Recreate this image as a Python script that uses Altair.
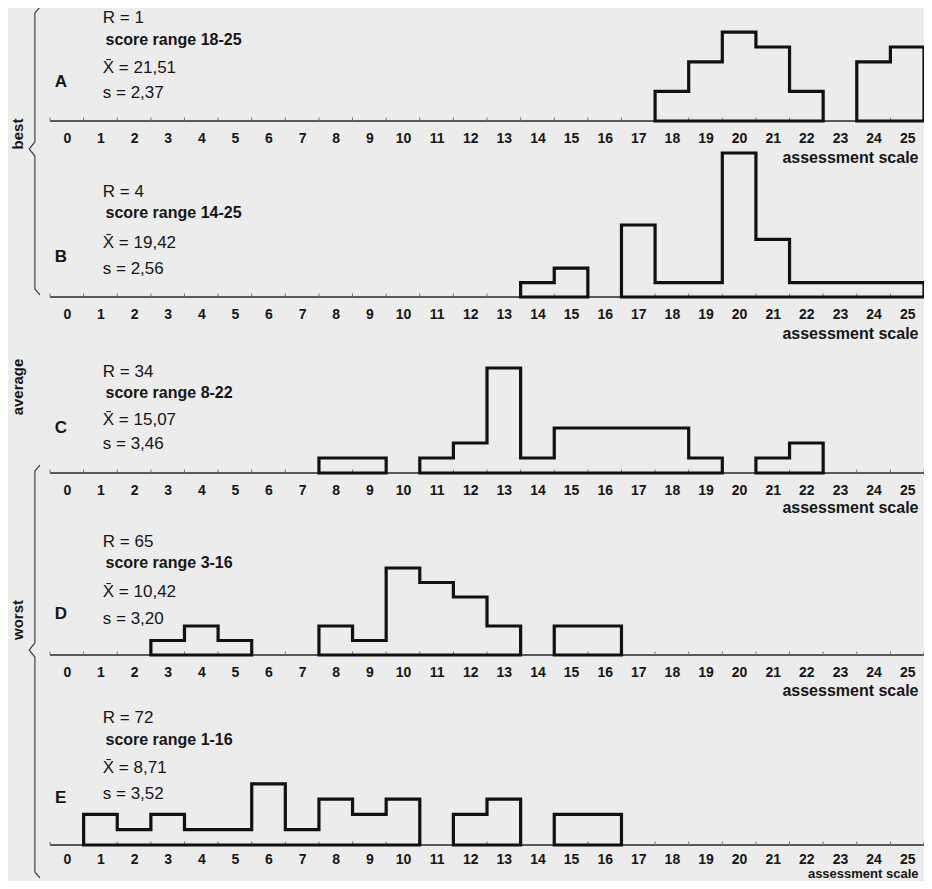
import altair as alt
import pandas as pd

# ---------------- data ----------------
scale_points = list(range(26))  # assessment scale 0..25
panel_names = ["A", "B", "C", "D", "E"]

counts_A = [0, 0, 0, 0, 0, 0, 0, 0, 0, 0, 0, 0, 0, 0, 0, 0, 0, 0, 2, 4, 6, 5, 2, 0, 4, 5]
counts_B = [0, 0, 0, 0, 0, 0, 0, 0, 0, 0, 0, 0, 0, 0, 1, 2, 0, 5, 1, 1, 10, 4, 1, 1, 1, 1]
counts_C = [0, 0, 0, 0, 0, 0, 0, 0, 1, 1, 0, 1, 2, 7, 1, 3, 3, 3, 3, 1, 0, 1, 2, 0, 0, 0]
counts_D = [0, 0, 0, 1, 2, 1, 0, 0, 2, 1, 6, 5, 4, 2, 0, 2, 2, 0, 0, 0, 0, 0, 0, 0, 0, 0]
counts_E = [0, 2, 1, 2, 1, 1, 4, 1, 3, 2, 3, 0, 2, 3, 0, 2, 2, 0, 0, 0, 0, 0, 0, 0, 0, 0]
all_counts = [counts_A, counts_B, counts_C, counts_D, counts_E]

r_labels = ["R = 1", "R = 4", "R = 34", "R = 65", "R = 72"]
range_labels = ["score range 18-25", "score range 14-25", "score range 8-22",
                "score range 3-16", "score range 1-16"]
mean_labels = ["X\u0304 = 21,51", "X\u0304 = 19,42", "X\u0304 = 15,07",
               "X\u0304 = 10,42", "X\u0304 = 8,71"]
sd_labels = ["s = 2,37", "s = 2,56", "s = 3,46", "s = 3,20", "s = 3,52"]

group_labels = ["best", "average", "worst"]

# ---------------- layout / style ----------------
FONT = "Liberation Sans Narrow, Liberation Sans, Arial Narrow, sans-serif"
INK = "#161616"
BG = "#ececec"
X_DOMAIN = [-1.75, 25.5]
WIDTH = 916
TOTAL_H = 873
heights = [113, 176, 176, 182, 190]          # plot heights (px) per panel
px_per_count = [14.8, 14.4, 15.0, 14.5, 15.3]
title_y = [36, 36, 34, 35, 28]
title_size = [16, 16, 16, 16, 13]
label_pad = [10, 10, 10, 10, 7]
# text line offsets above the baseline (px): R, range, mean, sd, letter
text_offsets = [
    [103, 81, 53, 28, 39],
    [105, 84, 54, 28, 40],
    [101, 80, 53, 29, 45],
    [113, 92, 63, 36, 41],
    [127, 105, 77, 51, 47],
]
TEXT_X = 1.07
LETTER_X = -0.18
SIDE_X = -1.46


def outline_table(counts):
    """Closed step outline of each run of non-empty bins (starts mid-bottom)."""
    rows = []
    run = 0
    i = 0
    n = len(counts)
    while i < n:
        if counts[i] > 0:
            j = i
            while j + 1 < n and counts[j + 1] > 0:
                j += 1
            left = scale_points[i] - 0.5
            right = scale_points[j] + 0.5
            mid = (left + right) / 2
            pts = [(mid, 0), (left, 0)]
            for k in range(i, j + 1):
                pts.append((scale_points[k] - 0.5, counts[k]))
                pts.append((scale_points[k] + 0.5, counts[k]))
            pts.append((right, 0))
            pts.append((mid, 0))
            for o, (px, py) in enumerate(pts):
                rows.append({"x": px, "y": py, "run": run, "o": o})
            run += 1
            i = j + 1
        else:
            i += 1
    return pd.DataFrame(rows)


xscale = alt.Scale(domain=X_DOMAIN, nice=False, zero=False)


def make_axis(i):
    return alt.Axis(
        values=scale_points, title="assessment scale", domain=False, ticks=False,
        grid=False, labelPadding=label_pad[i], labelFont=FONT, labelFontSize=14,
        labelFontWeight="bold", labelColor=INK, labelFlush=False, labelOverlap=False,
        titleFont=FONT, titleFontSize=title_size[i], titleFontWeight="bold", titleColor=INK,
        titleX=WIDTH - 6, titleY=title_y[i], titleAlign="right", titleBaseline="middle",
        titleAngle=0,
    )


def panel(i):
    unit = px_per_count[i]
    H = heights[i]
    yscale = alt.Scale(domain=[0, H / unit], nice=False, zero=False)
    xaxis = make_axis(i)

    def X(field):
        return alt.X(field, type="quantitative", scale=xscale, axis=xaxis)

    def Y(field):
        return alt.Y(field, type="quantitative", scale=yscale, axis=None)

    base_df = pd.DataFrame({"x": [-0.5], "x2": [25.5], "y": [0.0]})
    baseline = alt.Chart(base_df).mark_rule(color="#2a2a2a", strokeWidth=1.4).encode(
        x=X("x"), x2="x2", y=Y("y"))

    edges = [p - 0.5 for p in scale_points] + [25.5]
    tick_df = pd.DataFrame({"x": edges, "y0": [0.0] * len(edges), "y1": [3.5 / unit] * len(edges)})
    ticks = alt.Chart(tick_df).mark_rule(color="#777", strokeWidth=1).encode(
        x=X("x"), y=Y("y0"), y2="y1")

    hist = alt.Chart(outline_table(all_counts[i])).mark_line(
        color="#111", strokeWidth=3.2, strokeJoin="miter").encode(
        x=X("x"), y=Y("y"), detail="run:N", order="o:Q")

    off = text_offsets[i]
    big_df = pd.DataFrame({
        "x": [TEXT_X] * 3,
        "y": [off[0] / unit, off[2] / unit, off[3] / unit],
        "t": [r_labels[i], mean_labels[i], sd_labels[i]],
    })
    big = alt.Chart(big_df).mark_text(
        font=FONT, fontSize=17, color=INK, align="left", baseline="middle").encode(
        x=X("x"), y=Y("y"), text="t:N")

    rng_df = pd.DataFrame({"x": [TEXT_X + 0.08], "y": [off[1] / unit], "t": [range_labels[i]]})
    rng = alt.Chart(rng_df).mark_text(
        font=FONT, fontSize=16, fontWeight="bold", color=INK, align="left",
        baseline="middle").encode(x=X("x"), y=Y("y"), text="t:N")

    let_df = pd.DataFrame({"x": [LETTER_X], "y": [off[4] / unit], "t": [panel_names[i]]})
    let = alt.Chart(let_df).mark_text(
        font=FONT, fontSize=17, fontWeight="bold", color=INK, align="center",
        baseline="middle").encode(x=X("x"), y=Y("y"), text="t:N")

    layers = [baseline, ticks, hist, big, rng, let]

    def brace(top_px, tip_px, bot_px):
        pts = [(-0.80, top_px), (-0.95, top_px - 6), (-0.95, tip_px + 7), (-1.12, tip_px),
               (-0.95, tip_px - 7), (-0.95, bot_px + 6), (-0.80, bot_px)]
        return pd.DataFrame({"x": [p[0] for p in pts], "y": [p[1] / unit for p in pts],
                             "o": list(range(len(pts)))})

    def side_label(text, y_px):
        d = pd.DataFrame({"x": [SIDE_X], "y": [y_px / unit], "t": [text]})
        return alt.Chart(d).mark_text(
            font=FONT, fontSize=15, fontWeight="bold", color=INK, angle=270,
            align="center", baseline="middle").encode(x=X("x"), y=Y("y"), text="t:N")

    if i == 1:  # "best" brace spanning A and B
        layers.append(alt.Chart(brace(290, 148, 2)).mark_line(color="#444", strokeWidth=1.2).encode(
            x=X("x"), y=Y("y"), order="o:Q"))
        layers.append(side_label(group_labels[0], 163))
    if i == 2:
        layers.append(side_label(group_labels[1], 86))
    if i == 3:
        layers.append(side_label(group_labels[2], 35))
    if i == 4:  # "worst" brace spanning D and E
        layers.append(alt.Chart(brace(380, 195, -33)).mark_line(color="#444", strokeWidth=1.2).encode(
            x=X("x"), y=Y("y"), order="o:Q"))

    return alt.layer(*layers).properties(width=WIDTH, height=H)


chart = alt.vconcat(*[panel(i) for i in range(5)], spacing=0, bounds="flush").properties(
    background=BG,
    autosize=alt.AutoSizeParams(type="none"),
    padding={"top": 0, "left": 0, "right": 0, "bottom": TOTAL_H},
).configure_view(strokeWidth=0)

chart.save("out.html", embed_options={"renderer": "svg", "actions": False})
